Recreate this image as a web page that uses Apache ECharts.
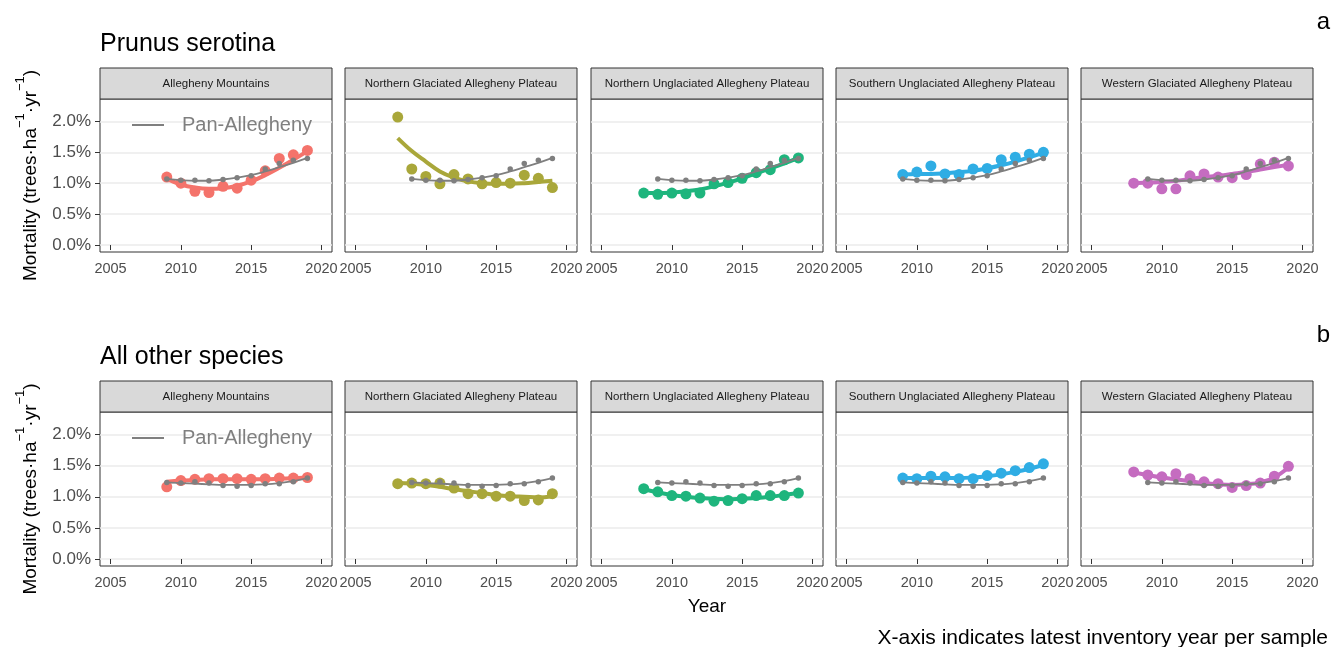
<!DOCTYPE html>
<html>
<head>
<meta charset="utf-8">
<script src="https://cdn.jsdelivr.net/npm/echarts@6/dist/echarts.min.js"></script>
<style>
  html, body { margin: 0; padding: 0; background: #fff; }
  #chart { width: 1333px; height: 647px; }
</style>
</head>
<body>
<div id="chart"></div>
<script>
// inventory years (latest year per sample)
const years = [2008, 2009, 2010, 2011, 2012, 2013, 2014, 2015, 2016, 2017, 2018, 2019];
const regions = [
  'Allegheny Mountains',
  'Northern Glaciated Allegheny Plateau',
  'Northern Unglaciated Allegheny Plateau',
  'Southern Unglaciated Allegheny Plateau',
  'Western Glaciated Allegheny Plateau'
];
const regionColors = ['#F4736B', '#A9A73A', '#1EB57D', '#2FADE4', '#C56CC0'];
const xTicks = [2005, 2010, 2015, 2020];
const yTicks = [0, 0.5, 1.0, 1.5, 2.0];

// Prunus serotina, mortality % per region (points) and smoothed fit
const prunusPoints = [
  [null, 1.10, 1.00, 0.87, 0.85, 0.95, 0.92, 1.05, 1.20, 1.40, 1.46, 1.53],
  [2.07, 1.23, 1.11, 0.99, 1.14, 1.07, 0.99, 1.01, 1.00, 1.13, 1.08, 0.93],
  [0.84, 0.82, 0.84, 0.83, 0.84, 0.99, 1.01, 1.08, 1.17, 1.22, 1.38, 1.41],
  [null, 1.14, 1.18, 1.28, 1.15, 1.14, 1.23, 1.24, 1.38, 1.42, 1.47, 1.50],
  [1.00, 1.00, 0.91, 0.91, 1.12, 1.15, 1.10, 1.09, 1.14, 1.31, 1.34, 1.28]
];
const prunusFit = [
  [null, 1.07, 0.98, 0.93, 0.91, 0.92, 0.96, 1.03, 1.13, 1.25, 1.38, 1.52],
  [1.73, 1.52, 1.35, 1.19, 1.09, 1.03, 1.00, 0.99, 0.99, 1.00, 1.02, 1.04],
  [0.84, 0.84, 0.85, 0.87, 0.90, 0.95, 1.01, 1.08, 1.16, 1.24, 1.32, 1.41],
  [null, 1.14, 1.15, 1.15, 1.16, 1.18, 1.20, 1.24, 1.29, 1.35, 1.42, 1.49],
  [1.00, 1.01, 1.02, 1.04, 1.07, 1.10, 1.12, 1.15, 1.18, 1.22, 1.26, 1.30]
];
const prunusPanPoints = [null, 1.07, 1.05, 1.05, 1.04, 1.06, 1.09, 1.12, 1.23, 1.32, 1.37, 1.40];
const prunusPanFit = [null, 1.07, 1.05, 1.04, 1.04, 1.06, 1.09, 1.13, 1.19, 1.26, 1.33, 1.41];

// All other species
const otherPoints = [
  [null, 1.16, 1.26, 1.28, 1.29, 1.29, 1.29, 1.28, 1.29, 1.30, 1.30, 1.31],
  [1.21, 1.22, 1.21, 1.22, 1.14, 1.05, 1.05, 1.01, 1.01, 0.94, 0.95, 1.05],
  [1.13, 1.08, 1.02, 1.01, 0.98, 0.93, 0.94, 0.97, 1.02, 1.02, 1.02, 1.06],
  [null, 1.30, 1.29, 1.33, 1.32, 1.29, 1.29, 1.34, 1.38, 1.42, 1.47, 1.53],
  [1.40, 1.35, 1.32, 1.37, 1.29, 1.24, 1.21, 1.15, 1.18, 1.22, 1.33, 1.49]
];
const otherFit = [
  [null, 1.24, 1.26, 1.27, 1.28, 1.28, 1.28, 1.28, 1.28, 1.29, 1.30, 1.31],
  [1.22, 1.21, 1.19, 1.16, 1.12, 1.09, 1.06, 1.03, 1.01, 1.00, 0.99, 1.01],
  [1.12, 1.07, 1.03, 1.00, 0.98, 0.97, 0.96, 0.97, 0.98, 1.00, 1.03, 1.06],
  [null, 1.30, 1.30, 1.30, 1.30, 1.30, 1.31, 1.33, 1.36, 1.40, 1.45, 1.51],
  [1.39, 1.35, 1.31, 1.28, 1.25, 1.22, 1.20, 1.19, 1.20, 1.23, 1.31, 1.47]
];
const otherPanPoints = [null, 1.23, 1.22, 1.24, 1.22, 1.18, 1.17, 1.18, 1.21, 1.21, 1.24, 1.30];
const otherPanFit = [null, 1.23, 1.22, 1.21, 1.20, 1.19, 1.19, 1.19, 1.20, 1.22, 1.25, 1.30];

const panelLefts = [100, 345, 591, 836, 1081];
const panelWidth = 232;
const rows = [
  { title: 'Prunus serotina', tag: 'a', stripTop: 68, top: 99, height: 153,
    points: prunusPoints, fit: prunusFit, panPoints: prunusPanPoints, panFit: prunusPanFit },
  { title: 'All other species', tag: 'b', stripTop: 381, top: 412, height: 154,
    points: otherPoints, fit: otherFit, panPoints: otherPanPoints, panFit: otherPanFit }
];

const pairs = arr => years.map((y, i) => [y, arr[i]]).filter(d => d[1] !== null);

const grids = [], xAxes = [], yAxes = [], series = [], graphics = [], legends = [];

rows.forEach((row, r) => {
  graphics.push({
    type: 'text', left: 100, top: row.stripTop - 36,
    style: { text: row.title, font: '25px "Liberation Sans"', fill: '#000' }
  });
  graphics.push({
    type: 'text', right: 3, top: row.stripTop - 58,
    style: { text: row.tag, font: '24px "Liberation Sans"', fill: '#000' }
  });
  legends.push({
    data: [{ name: 'Pan-Allegheny', icon: 'rect' }],
    left: 127, top: row.top + 11,
    itemWidth: 32, itemHeight: 2,
    selectedMode: false,
    textStyle: { color: '#7F7F7F', fontSize: 20, padding: [0, 0, 0, 13] }
  });

  regions.forEach((name, c) => {
    const idx = grids.length;
    grids.push({
      left: panelLefts[c], top: row.top, width: panelWidth, height: row.height,
      show: true, borderColor: '#333', borderWidth: 1, backgroundColor: '#fff'
    });
    graphics.push({
      type: 'rect', shape: { x: panelLefts[c], y: row.stripTop, width: panelWidth, height: row.top - row.stripTop },
      style: { fill: '#D9D9D9', stroke: '#333', lineWidth: 1 }
    });
    graphics.push({
      type: 'text', x: panelLefts[c] + panelWidth / 2, y: row.stripTop + (row.top - row.stripTop) / 2,
      style: { text: name, font: '11.5px "Liberation Sans"', fill: '#1A1A1A', align: 'center', verticalAlign: 'middle' }
    });
    xAxes.push({
      type: 'value', gridIndex: idx, min: 2004.25, max: 2020.75,
      axisLine: { show: false },
      axisTick: { show: true, customValues: xTicks, length: 5, lineStyle: { color: '#333' } },
      axisLabel: { customValues: xTicks, color: '#4D4D4D', fontSize: 14.5, margin: 9,
        formatter: v => String(v) },
      splitLine: { show: false },
      name: (r === 1 && c === 2) ? 'Year' : '',
      nameLocation: 'middle', nameGap: 31,
      nameTextStyle: { color: '#000', fontSize: 19 }
    });
    const first = c === 0;
    yAxes.push({
      type: 'value', gridIndex: idx, min: -0.1125, max: 2.3625,
      axisLine: { show: false },
      axisTick: { show: first, customValues: yTicks, length: 5, lineStyle: { color: '#333' } },
      axisLabel: { show: first, customValues: yTicks, color: '#4D4D4D', fontSize: 17, margin: 9,
        formatter: v => v.toFixed(1) + '%' },
      splitLine: { show: true, lineStyle: { color: '#EBEBEB', width: 1.5 } },
      name: first ? '{t|Mortality (trees·ha}{s|−1}{t|·yr}{s|−1}{t|)}' : '',
      nameLocation: 'middle', nameGap: 60,
      nameTextStyle: {
        rich: {
          t: { fontSize: 19, color: '#000', lineHeight: 26, verticalAlign: 'bottom' },
          s: { fontSize: 13, color: '#000', lineHeight: 26, verticalAlign: 'top' }
        }
      }
    });
    const col = regionColors[c];
    series.push({
      name: name, type: 'scatter', xAxisIndex: idx, yAxisIndex: idx,
      data: pairs(row.points[c]), symbolSize: 11, itemStyle: { color: col, opacity: 1 }, z: 2
    });
    series.push({
      name: name + ' fit', type: 'line', xAxisIndex: idx, yAxisIndex: idx,
      data: pairs(row.fit[c]), smooth: 0.4, showSymbol: false,
      lineStyle: { color: col, width: 4 }, itemStyle: { color: col }, z: 3
    });
    series.push({
      name: 'Pan-Allegheny', type: 'line', xAxisIndex: idx, yAxisIndex: idx,
      data: pairs(row.panFit), smooth: 0.4, showSymbol: false,
      lineStyle: { color: '#7F7F7F', width: 1.8 }, itemStyle: { color: '#7F7F7F' }, z: 4
    });
    series.push({
      name: 'Pan-Allegheny points', type: 'scatter', xAxisIndex: idx, yAxisIndex: idx,
      data: pairs(row.panPoints), symbolSize: 5.5, itemStyle: { color: '#7F7F7F', opacity: 1 }, z: 5
    });
  });
});

graphics.push({
  type: 'text', right: 5, top: 628,
  style: { text: 'X-axis indicates latest inventory year per sample', font: '21px "Liberation Sans"', fill: '#000' }
});

const chart = echarts.init(document.getElementById('chart'));
chart.setOption({
  animation: false,
  textStyle: { fontFamily: 'Liberation Sans' },
  grid: grids,
  xAxis: xAxes,
  yAxis: yAxes,
  legend: legends,
  series: series,
  graphic: { elements: graphics }
});
</script>
</body>
</html>
